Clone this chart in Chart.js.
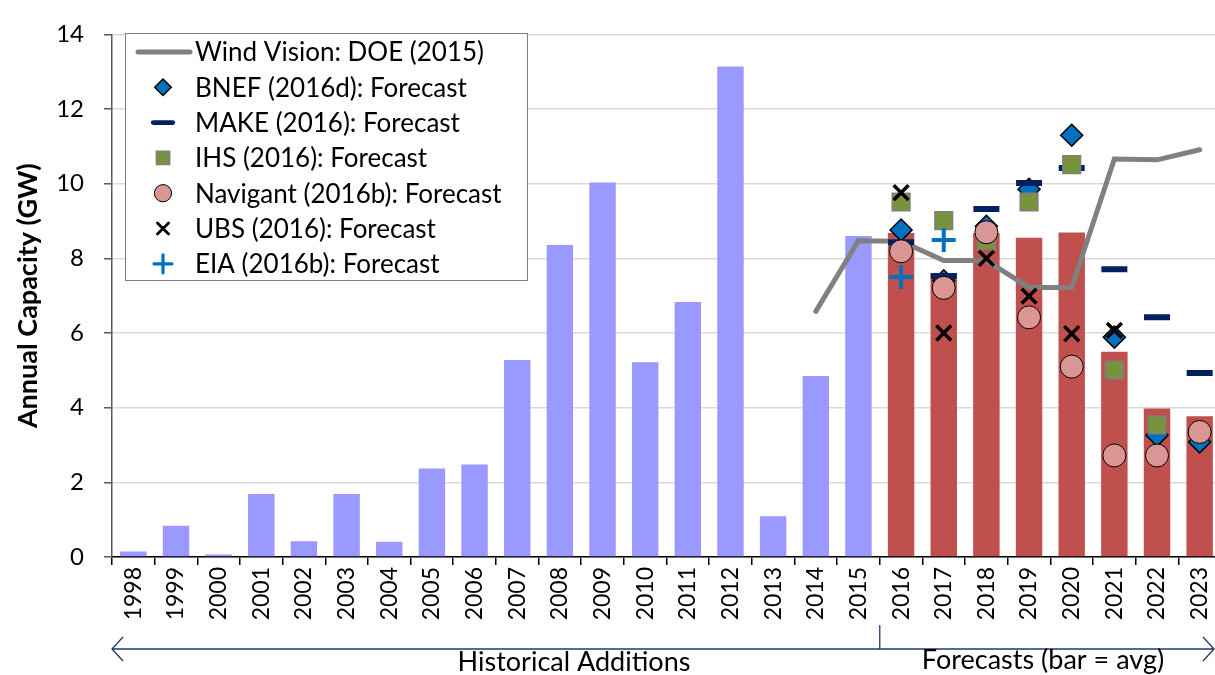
<!DOCTYPE html>
<html>
<head>
<meta charset="utf-8">
<title>Annual Wind Capacity: History and Forecasts</title>
<script src="https://cdn.jsdelivr.net/npm/chart.js@4.4.1/dist/chart.umd.min.js"></script>
<style>
    html, body { margin: 0; padding: 0; background: #fff; overflow: hidden; }
    #capacity-chart { display: block; width: 1240px; height: 675px; }
</style>
</head>
<body>
<canvas id="capacity-chart" width="1240" height="675"></canvas>
<script>
// Annual capacity in GW, 1998-2023
const years = ['1998', '1999', '2000', '2001', '2002', '2003', '2004', '2005', '2006', '2007', '2008', '2009', '2010',
    '2011', '2012', '2013', '2014', '2015', '2016', '2017', '2018', '2019', '2020', '2021', '2022', '2023'];

const historical = [0.15, 0.84, 0.07, 1.69, 0.42, 1.69, 0.41, 2.37, 2.48, 5.28, 8.36, 10.03, 5.22, 6.83, 13.14, 1.09, 4.85, 8.60,
    null, null, null, null, null, null, null, null];
const forecastAvg = [null, null, null, null, null, null, null, null, null, null, null, null, null, null, null, null, null, null,
    8.68, 7.61, 8.68, 8.55, 8.69, 5.50, 3.98, 3.77];

const noHistory = new Array(18).fill(null);
const windVision = [null, null, null, null, null, null, null, null, null, null, null, null, null, null, null, null,
    6.58, 8.47, 8.46, 7.94, 7.94, 7.22, 7.22, 10.66, 10.64, 10.91];
const bnef = noHistory.concat([8.76, 7.40, 8.86, 9.85, 11.30, 5.89, 3.26, 3.08]);
const make = noHistory.concat([8.43, 7.53, 9.32, 10.02, 10.42, 7.71, 6.42, 4.93]);
const ihs = noHistory.concat([9.51, 9.01, 8.48, 9.51, 10.51, 5.01, 3.54, null]);
const navigant = noHistory.concat([8.19, 7.21, 8.70, 6.42, 5.10, 2.72, 2.72, 3.35]);
const ubs = noHistory.concat([9.76, 6.00, 8.00, 6.99, 5.98, 6.07, null, null]);
const eia = noHistory.concat([7.50, 8.49, null, null, null, null, null, null]);

const yTicks = [0, 2, 4, 6, 8, 10, 12, 14];

const FONT = 'Lato, "Open Sans", sans-serif';

function markerSet(label, data, style, extra) {
    return Object.assign({
        type: 'line',
        label: label,
        data: data,
        showLine: false,
        pointStyle: style,
        pointHoverRadius: 0
    }, extra);
}

function drawShape(ctx, style, r, x, y) {
    const h = Math.SQRT1_2 * r;
    switch (style) {
        case 'rectRot':
            ctx.moveTo(x - r, y);
            ctx.lineTo(x, y - r);
            ctx.lineTo(x + r, y);
            ctx.lineTo(x, y + r);
            ctx.closePath();
            break;
        case 'rect':
            ctx.rect(x - h, y - h, 2 * h, 2 * h);
            break;
        case 'circle':
            ctx.arc(x, y, r, 0, Math.PI * 2);
            break;
        case 'line':
            ctx.moveTo(x - r, y);
            ctx.lineTo(x + r, y);
            break;
        case 'cross':
            ctx.moveTo(x - r, y);
            ctx.lineTo(x + r, y);
            ctx.moveTo(x, y - r);
            ctx.lineTo(x, y + r);
            break;
        case 'crossRot':
            ctx.moveTo(x - h, y - h);
            ctx.lineTo(x + h, y + h);
            ctx.moveTo(x + h, y - h);
            ctx.lineTo(x - h, y + h);
            break;
    }
}

// Boxed legend in the upper left of the plot
const boxLegend = {
    id: 'boxLegend',
    afterDraw(chart) {
        const ctx = chart.ctx;
        const items = chart.data.datasets.filter(ds => ds.type === 'line');
        const left = 125.5, top = 33.5, width = 402, height = 247;
        const rowGap = 35.3;

        ctx.save();
        ctx.fillStyle = '#fff';
        ctx.fillRect(left, top, width, height);
        ctx.strokeStyle = '#7f7f7f';
        ctx.lineWidth = 1;
        ctx.strokeRect(left, top, width, height);

        ctx.font = '26px ' + FONT;
        ctx.textBaseline = 'middle';
        ctx.textAlign = 'left';

        items.forEach((ds, i) => {
            const y = 52 + i * rowGap;
            if (ds.showLine) {
                ctx.beginPath();
                ctx.strokeStyle = ds.borderColor;
                ctx.lineWidth = ds.borderWidth;
                ctx.lineCap = 'round';
                ctx.moveTo(138, y);
                ctx.lineTo(190, y);
                ctx.stroke();
            } else {
                const simple = ['line', 'cross', 'crossRot'].includes(ds.pointStyle);
                ctx.save();
                ctx.fillStyle = ds.pointBackgroundColor;
                ctx.strokeStyle = ds.pointBorderColor;
                ctx.lineWidth = simple ? ds.pointBorderWidth * 0.8 : ds.pointBorderWidth;
                ctx.beginPath();
                drawShape(ctx, ds.pointStyle, ds.pointRadius * 0.75, 163, y);
                if (!simple) {
                    ctx.fill();
                }
                ctx.stroke();
                ctx.restore();
            }
            ctx.fillStyle = '#000';
            ctx.fillText(ds.label, 195, y + 1);
        });
        ctx.restore();
    }
};

// Arrow and captions under the year labels
const periodArrows = {
    id: 'periodArrows',
    afterDraw(chart) {
        const ctx = chart.ctx;
        const xs = chart.scales.x;
        const area = chart.chartArea;
        const split = (xs.getPixelForValue(17) + xs.getPixelForValue(18)) / 2;
        const y = 649;
        const left = area.left;
        const right = 1214;

        ctx.save();
        ctx.strokeStyle = '#1f3b6b';
        ctx.lineWidth = 1.3;
        ctx.beginPath();
        ctx.moveTo(left, y);
        ctx.lineTo(right, y);
        ctx.moveTo(left + 11, y - 12);
        ctx.lineTo(left, y);
        ctx.lineTo(left + 11, y + 12);
        ctx.moveTo(right - 11, y - 12);
        ctx.lineTo(right, y);
        ctx.lineTo(right - 11, y + 12);
        ctx.moveTo(split, 625);
        ctx.lineTo(split, y);
        ctx.stroke();

        ctx.fillStyle = '#000';
        ctx.font = '27px ' + FONT;
        ctx.textAlign = 'center';
        ctx.textBaseline = 'alphabetic';
        ctx.fillText('Historical Additions', 574, 671);
        ctx.fillText('Forecasts (bar = avg)', 1043, 669);
        ctx.restore();
    }
};

const ctx = document.getElementById('capacity-chart').getContext('2d');

new Chart(ctx, {
    data: {
        labels: years,
        datasets: [
            {
                type: 'bar',
                label: 'Historical Additions',
                data: historical,
                backgroundColor: '#9999ff',
                grouped: false,
                barPercentage: 0.62,
                categoryPercentage: 1,
                order: 9
            },
            {
                type: 'bar',
                label: 'Forecast average',
                data: forecastAvg,
                backgroundColor: '#c0504d',
                grouped: false,
                barPercentage: 0.62,
                categoryPercentage: 1,
                order: 8
            },
            {
                type: 'line',
                label: 'Wind Vision: DOE (2015)',
                data: windVision,
                showLine: true,
                borderColor: '#808080',
                borderWidth: 5,
                borderCapStyle: 'round',
                borderJoinStyle: 'miter',
                pointRadius: 0,
                pointHoverRadius: 0,
                spanGaps: false,
                order: 7
            },
            markerSet('BNEF (2016d): Forecast', bnef, 'rectRot', {
                pointRadius: 11, pointBackgroundColor: '#0070c0', pointBorderColor: '#000', pointBorderWidth: 1.5, order: 6
            }),
            markerSet('MAKE (2016): Forecast', make, 'line', {
                pointRadius: 13, pointBackgroundColor: '#002060', pointBorderColor: '#002060', pointBorderWidth: 6, order: 5
            }),
            markerSet('IHS (2016): Forecast', ihs, 'rect', {
                pointRadius: 12.5, pointBackgroundColor: '#77933c', pointBorderColor: '#7f7f7f', pointBorderWidth: 1.5, order: 4
            }),
            markerSet('Navigant (2016b): Forecast', navigant, 'circle', {
                pointRadius: 11.5, pointBackgroundColor: '#da9694', pointBorderColor: '#000', pointBorderWidth: 1, order: 3
            }),
            markerSet('UBS (2016): Forecast', ubs, 'crossRot', {
                pointRadius: 10.5, pointBackgroundColor: '#000', pointBorderColor: '#000', pointBorderWidth: 3.5, order: 2
            }),
            markerSet('EIA (2016b): Forecast', eia, 'cross', {
                pointRadius: 12, pointBackgroundColor: '#0070c0', pointBorderColor: '#0070c0', pointBorderWidth: 4, order: 1
            })
        ]
    },
    options: {
        responsive: false,
        animation: false,
        events: [],
        layout: { padding: { top: 26, right: 13, left: 0, bottom: 0 } },
        plugins: {
            legend: { display: false },
            tooltip: { enabled: false }
        },
        scales: {
            x: {
                offset: true,
                border: { display: true, color: '#000', width: 1.5 },
                grid: {
                    offset: true,
                    drawOnChartArea: false,
                    drawTicks: true,
                    tickLength: 8,
                    color: '#000',
                    lineWidth: 1.5
                },
                ticks: {
                    autoSkip: false,
                    minRotation: 90,
                    maxRotation: 90,
                    padding: 2,
                    color: '#000',
                    font: { family: FONT, size: 23 }
                },
                afterFit(scale) {
                    // plot spans exactly from the value axis to the right padding
                    scale.height = 118;
                    scale.paddingLeft = 0;
                    scale.paddingRight = 0;
                }
            },
            y: {
                min: 0,
                max: 14,
                afterBuildTicks(scale) {
                    scale.ticks = yTicks.map(v => ({ value: v }));
                },
                border: { display: true, color: '#595959', width: 1.5 },
                grid: {
                    color: '#d9d9d9',
                    lineWidth: 1.5,
                    tickColor: '#595959',
                    tickLength: 8
                },
                ticks: {
                    padding: 20,
                    color: '#000',
                    font: { family: FONT, size: 24 }
                },
                title: {
                    display: true,
                    text: 'Annual Capacity (GW)',
                    color: '#000',
                    padding: { top: 12, bottom: 0 },
                    font: { family: FONT, size: 27, weight: 'bold' }
                },
                afterFit(scale) {
                    scale.width = 112;
                }
            }
        }
    },
    plugins: [boxLegend, periodArrows]
});
</script>
</body>
</html>
